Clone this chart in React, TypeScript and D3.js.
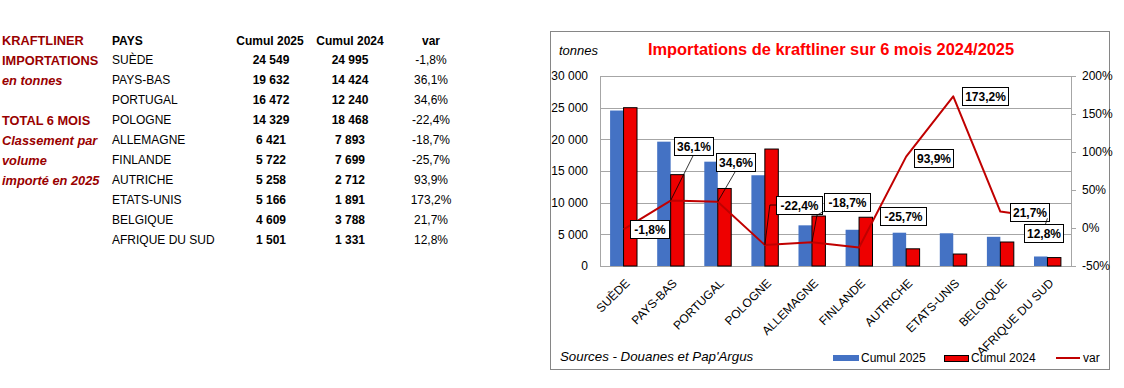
import React from 'react'
import * as d3 from 'd3'

const countries = ['SUÈDE', 'PAYS-BAS', 'PORTUGAL', 'POLOGNE', 'ALLEMAGNE', 'FINLANDE', 'AUTRICHE', 'ETATS-UNIS', 'BELGIQUE', 'AFRIQUE DU SUD']
const cumul2025 = [24549, 19632, 16472, 14329, 6421, 5722, 5258, 5166, 4609, 1501]
const cumul2024 = [24995, 14424, 12240, 18468, 7893, 7699, 2712, 1891, 3788, 1331]
const variation = [-1.8, 36.1, 34.6, -22.4, -18.7, -25.7, 93.9, 173.2, 21.7, 12.8]
const tonnesTicks = [0, 5000, 10000, 15000, 20000, 25000, 30000]
const varTicks = [-50, 0, 50, 100, 150, 200]
const seriesNames = ['Cumul 2025', 'Cumul 2024']
const sideLines = ['KRAFTLINER', 'IMPORTATIONS', 'en tonnes', '', 'TOTAL 6 MOIS', 'Classement par', 'volume', 'importé en 2025']

// where excel put each data label, relative to its point (px), and how its leader goes
const labelShift: [number, number][] = [[26, 0], [23, -55], [18, -40], [34, -40], [35, -40], [44, -32], [27, 1], [32, 0], [29, 0], [-4, 15]]
const leaderKind = ['', 'bottom', 'bottom', 'left', 'corner', '', '', '', '', 'top']

const FONT = '"Liberation Sans", Arial, sans-serif'
const BLUE = '#4472C4'
const RED = '#EE0000'
const LINE = '#C00000'
const DARKRED = '#990000'

const fr = d3.formatLocale({ decimal: ',', thousands: ' ', grouping: [3], currency: ['', ''], minus: '-' })
const fmtInt = fr.format(',d')
const fmtPct = (v: number) => fr.format('.1f')(v) + '%'

const left = 600, right = 1071, top = 76, bottom = 266

const App = () => {
  const x = d3.scaleBand<string>().domain(countries).range([left, right])
  const bw = x.bandwidth()
  const xs = d3.scaleBand<string>().domain(seriesNames).range([0, bw]).paddingOuter(0.75)
  const y = d3.scaleLinear().domain([0, 30000]).range([bottom, top])
  const yv = d3.scaleLinear().domain([-50, 200]).range([bottom, top])
  const cx = (i: number) => (x(countries[i]) as number) + bw / 2

  const line = d3.line<number>().x((_, i) => cx(i)).y((d) => yv(d))

  const rowY = (i: number) => 63.5 + i * 20
  const sideY = [45, 65, 85, 105, 125, 145, 165, 185]

  return (
    <svg width={1124} height={388} style={{ position: 'absolute', left: 0, top: 0 }} fontFamily={FONT}>
      <rect width={1124} height={388} fill="#fff" />

      {/* table on the left */}
      {sideLines.map((t, i) => (
        <text key={'s' + i} x={2} y={sideY[i]} fontSize={12.8} fontWeight="bold"
          fontStyle={i === 2 || i >= 5 ? 'italic' : 'normal'} fill={DARKRED}>{t}</text>
      ))}
      <text x={112} y={45} fontSize={12} fontWeight="bold">PAYS</text>
      <text x={270} y={45} fontSize={12} fontWeight="bold" textAnchor="middle">Cumul 2025</text>
      <text x={350} y={45} fontSize={12} fontWeight="bold" textAnchor="middle">Cumul 2024</text>
      <text x={431} y={45} fontSize={12} fontWeight="bold" textAnchor="middle">var</text>
      {countries.map((c, i) => (
        <g key={'r' + i} fontSize={12}>
          <text x={112} y={rowY(i)}>{c}</text>
          <text x={271} y={rowY(i)} fontWeight="bold" textAnchor="middle">{fmtInt(cumul2025[i])}</text>
          <text x={350} y={rowY(i)} fontWeight="bold" textAnchor="middle">{fmtInt(cumul2024[i])}</text>
          <text x={431} y={rowY(i)} textAnchor="middle">{fmtPct(variation[i])}</text>
        </g>
      ))}

      {/* chart frame */}
      <rect x={550.5} y={31.5} width={559} height={338} fill="#fff" stroke="#868686" />
      <text x={559} y={54.5} fontSize={13} fontStyle="italic">tonnes</text>
      <text x={831} y={55} fontSize={16.4} fontWeight="bold" fill="#FF0000" textAnchor="middle">
        Importations de kraftliner sur 6 mois 2024/2025
      </text>

      {/* grid + axes */}
      {tonnesTicks.map((t) => (
        <g key={'g' + t}>
          <line x1={left} x2={right} y1={Math.round(y(t)) + 0.5} y2={Math.round(y(t)) + 0.5} stroke="#A6A6A6" />
          <text x={588} y={y(t)} dy="0.35em" fontSize={12} textAnchor="end">{fmtInt(t)}</text>
        </g>
      ))}
      <line x1={left + 0.5} x2={left + 0.5} y1={top} y2={bottom} stroke="#A6A6A6" />
      <line x1={right + 0.5} x2={right + 0.5} y1={top} y2={bottom} stroke="#A6A6A6" />
      {varTicks.map((t) => (
        <g key={'v' + t}>
          <line x1={right} x2={right + 5} y1={Math.round(yv(t)) + 0.5} y2={Math.round(yv(t)) + 0.5} stroke="#A6A6A6" />
          <text x={1082} y={yv(t)} dy="0.35em" fontSize={12}>{t}%</text>
        </g>
      ))}

      {/* bars */}
      {countries.map((c, i) => (
        <g key={'b' + i}>
          <rect x={(x(c) as number) + (xs('Cumul 2025') as number)} y={y(cumul2025[i])}
            width={xs.bandwidth()} height={bottom - y(cumul2025[i])} fill={BLUE} />
          <rect x={(x(c) as number) + (xs('Cumul 2024') as number)} y={y(cumul2024[i])}
            width={xs.bandwidth()} height={bottom - y(cumul2024[i])} fill={RED} stroke="#000" strokeWidth={1} />
        </g>
      ))}

      {/* category labels */}
      {countries.map((c, i) => (
        <text key={'x' + i} transform={`translate(${cx(i) + 4},${281}) rotate(-45)`} fontSize={12} textAnchor="end" dy="0.35em">{c}</text>
      ))}

      {/* var line */}
      <path d={line(variation) as string} fill="none" stroke={LINE} strokeWidth={2} strokeLinejoin="round" />

      {/* data labels */}
      {variation.map((v, i) => {
        const px = cx(i), py = yv(v)
        const txt = fmtPct(v)
        const w = txt.length * 6.6 + 6
        const h = 18
        const bx = px + labelShift[i][0] - w / 2
        const by = py + labelShift[i][1] - h / 2
        let leader: string | null = null
        if (leaderKind[i] === 'bottom') leader = `M${px},${py}L${bx + w / 2},${by + h}`
        if (leaderKind[i] === 'left') leader = `M${px},${py}L${px + 5},${by + h / 2}L${bx},${by + h / 2}`
        if (leaderKind[i] === 'corner') leader = `M${px},${py}L${px + 5},${by + h + 4}L${bx},${by + h}`
        if (leaderKind[i] === 'top') leader = `M${px},${py}L${px - 2},${by}`
        return (
          <g key={'l' + i}>
            {leader && <path d={leader} fill="none" stroke="#000" strokeWidth={0.8} />}
            <rect x={Math.round(bx) + 0.5} y={Math.round(by) + 0.5} width={Math.round(w)} height={h} fill="#fff" stroke="#000" />
            <text x={Math.round(bx) + 0.5 + Math.round(w) / 2} y={Math.round(by) + 0.5 + h / 2} dy="0.36em"
              fontSize={12} fontWeight="bold" textAnchor="middle">{txt}</text>
          </g>
        )
      })}

      {/* footer */}
      <text x={560} y={361} fontSize={13.3} fontStyle="italic">Sources - Douanes et Pap'Argus</text>
      <rect x={833} y={355} width={26} height={6} fill={BLUE} />
      <text x={861} y={362} fontSize={12}>Cumul 2025</text>
      <rect x={944.5} y={355.5} width={24} height={6} fill={RED} stroke="#000" />
      <text x={971} y={362} fontSize={12}>Cumul 2024</text>
      <line x1={1056} x2={1080} y1={358} y2={358} stroke={LINE} strokeWidth={2} />
      <text x={1083} y={362} fontSize={12}>var</text>
    </svg>
  )
}

export default App
